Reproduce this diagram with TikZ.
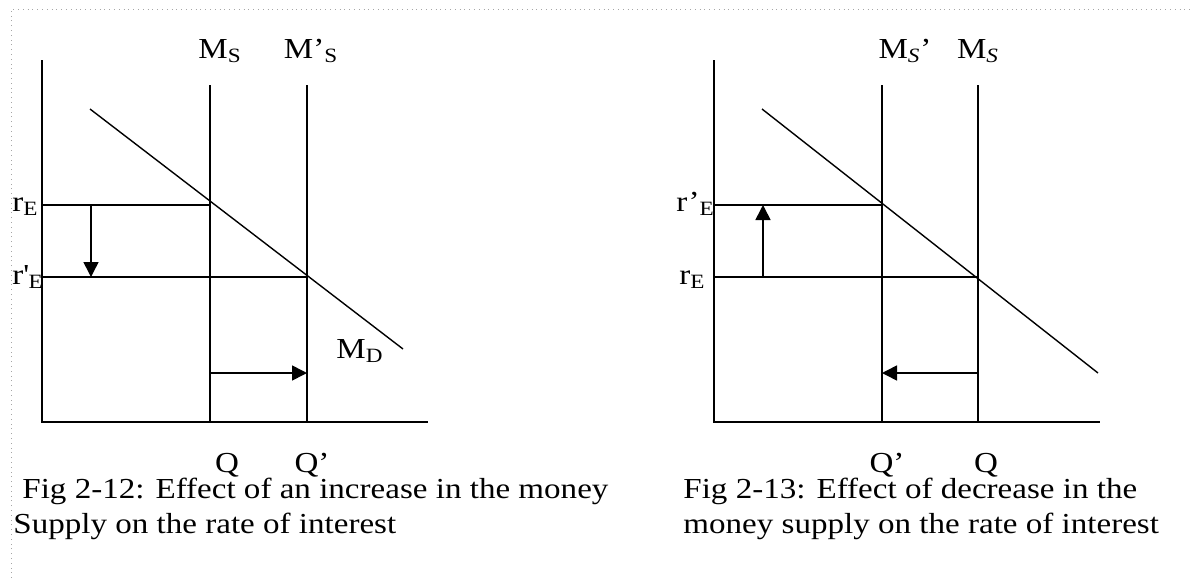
\documentclass[tikz,border=0pt]{standalone}
\usepackage{fontspec}
\setmainfont{Liberation Serif}[FakeStretch=1.14]
\usetikzlibrary{arrows.meta}
\tikzset{
  axis/.style={line width=0.8pt, line cap=rect},
  curve/.style={line width=0.7pt},
  guide/.style={line width=0.8pt},
  shift arrow/.style={line width=0.8pt, -{Triangle[length=7.5pt,width=7.5pt]}},
  lbl/.style={inner sep=0pt, anchor=base, font=\fontsize{14.5pt}{16pt}\selectfont},
  lblw/.style={inner sep=0pt, anchor=base west, font=\fontsize{14.5pt}{16pt}\selectfont},
  frame/.style={gray!70, line width=0.4pt, dotted}
}
\begin{document}
\begin{tikzpicture}[x=0.5pt, y=-0.5pt]
\useasboundingbox (0,0) rectangle (1190,578);
% frame
\coordinate (F0) at (11,578);
\coordinate (F1) at (11,9);
\coordinate (F2) at (1190,9);
\draw[frame] (F0) -- (F1) -- (F2);

% ---------- left figure ----------
\coordinate (Ly) at (42,61);
\coordinate (Lo) at (42,422);
\coordinate (Lx) at (427,422);
\coordinate (LsT) at (210,85);
\coordinate (LsB) at (210,422);
\coordinate (LspT) at (307,85);
\coordinate (LspB) at (307,422);
\coordinate (LdT) at (90,109);
\coordinate (LdB) at (403,349);
\coordinate (LrA) at (42,205);
\coordinate (LrB) at (210,205);
\coordinate (LrpA) at (42,277);
\coordinate (LrpB) at (307,277);
\coordinate (LaT) at (91,205);
\coordinate (LaB) at (91,277);
\coordinate (LbL) at (210,373);
\coordinate (LbR) at (307,373);

\draw[axis] (Ly) -- (Lo) -- (Lx);
\draw[guide] (LsT) -- (LsB);
\draw[guide] (LspT) -- (LspB);
\draw[curve] (LdT) -- (LdB);
\draw[guide] (LrA) -- (LrB);
\draw[guide] (LrpA) -- (LrpB);
\draw[shift arrow] (LaT) -- (LaB);
\draw[shift arrow] (LbL) -- (LbR);

\node[lbl] (LMs) at (220,58) {M\textsubscript{S}};
\node[lbl] (LMsp) at (311,58) {M’\textsubscript{S}};
\node[lblw] (LrE) at (12,211) {r\textsubscript{E}};
\node[lblw] (LrpE) at (12,284) {r\textquotesingle\textsubscript{E}};
\node[lblw] (LMd) at (336,358) {M\textsubscript{D}};
\node[lbl] (LQ) at (227,472) {Q};
\node[lbl] (LQp) at (312,472) {Q’};
\node[lblw] (Lcap1) at (22,498) {Fig 2-12: Effect of an increase in the money};
\node[lblw] (Lcap2) at (13,533) {Supply on the rate of interest};

% ---------- right figure ----------
\coordinate (Ry) at (714,61);
\coordinate (Ro) at (714,422);
\coordinate (Rx) at (1099,422);
\coordinate (RspT) at (882,85);
\coordinate (RspB) at (882,422);
\coordinate (RsT) at (978,85);
\coordinate (RsB) at (978,422);
\coordinate (RdT) at (762,109);
\coordinate (RdB) at (1098,373);
\coordinate (RrpA) at (714,205);
\coordinate (RrpB) at (882,205);
\coordinate (RrA) at (714,277);
\coordinate (RrB) at (978,277);
\coordinate (RaB) at (763,277);
\coordinate (RaT) at (763,205);
\coordinate (RbR) at (978,373);
\coordinate (RbL) at (882,373);

\draw[axis] (Ry) -- (Ro) -- (Rx);
\draw[guide] (RspT) -- (RspB);
\draw[guide] (RsT) -- (RsB);
\draw[curve] (RdT) -- (RdB);
\draw[guide] (RrpA) -- (RrpB);
\draw[guide] (RrA) -- (RrB);
\draw[shift arrow] (RaB) -- (RaT);
\draw[shift arrow] (RbR) -- (RbL);

\node[lbl] (RMsp) at (905,58) {M\textsubscript{\textit{S}}’};
\node[lbl] (RMs) at (978,58) {M\textsubscript{\textit{S}}};
\node[lblw] (RrpE) at (676,211) {r’\textsubscript{E}};
\node[lblw] (RrE) at (679,284) {r\textsubscript{E}};
\node[lbl] (RQp) at (887,472) {Q’};
\node[lbl] (RQ) at (986,472) {Q};
\node[lblw] (Rcap1) at (683,498) {Fig 2-13: Effect of decrease in the};
\node[lblw] (Rcap2) at (683,533) {money supply on the rate of interest};
\end{tikzpicture}
\end{document}
